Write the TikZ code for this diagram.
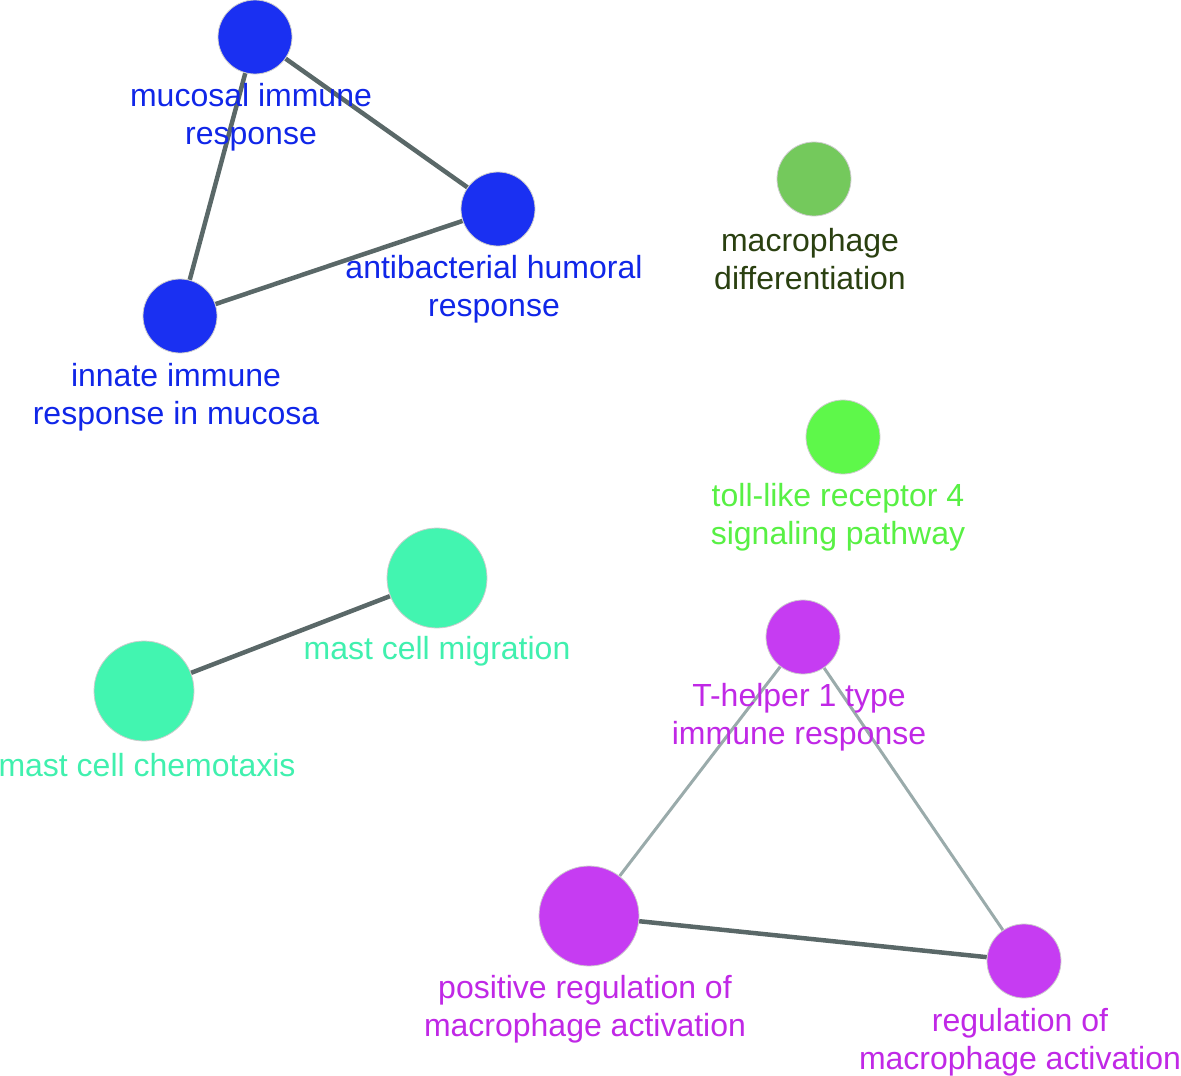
\documentclass[tikz,border=0pt]{standalone}
\usepackage{fontspec}
\setmainfont{Liberation Sans}
\usetikzlibrary{backgrounds}
\definecolor{cblue}{HTML}{1A30F2}
\definecolor{tblue}{HTML}{1026E8}
\definecolor{cmacro}{HTML}{74C95C}
\definecolor{tmacro}{HTML}{2A4010}
\definecolor{ctoll}{HTML}{5EF84A}
\definecolor{ttoll}{HTML}{58F044}
\definecolor{cmast}{HTML}{42F5B0}
\definecolor{tmast}{HTML}{40F0AE}
\definecolor{cmag}{HTML}{C63CF2}
\definecolor{tmag}{HTML}{C028E6}
\definecolor{edark}{HTML}{5A6868}
\definecolor{elight}{HTML}{9AABAB}
\tikzset{
  term/.style={circle, inner sep=0pt, minimum size=74pt, draw=gray!40, line width=0.8pt},
  bigterm/.style={term, minimum size=100pt},
  lbl/.style={align=center, inner sep=0pt, font=\fontsize{32}{38}\selectfont},
  strong/.style={edark, line width=4.5pt},
  weak/.style={elight, line width=3pt}
}
\begin{document}
\begin{tikzpicture}[x=1pt, y=-1pt]
\useasboundingbox (0,0) rectangle (1181,1076);
% circles
\node[term, fill=cblue] (muc) at (255,37) {};
\node[term, fill=cblue] (anti) at (498,209) {};
\node[term, fill=cblue] (innate) at (180,316) {};
\node[term, fill=cmacro] (macro) at (814,179) {};
\node[term, fill=ctoll] (toll) at (843,437) {};
\node[bigterm, fill=cmast] (mig) at (437,578) {};
\node[bigterm, fill=cmast] (chemo) at (144,691) {};
\node[term, fill=cmag] (th) at (803,637) {};
\node[bigterm, fill=cmag] (pos) at (589,916) {};
\node[term, fill=cmag] (reg) at (1024,961) {};
% edges
\begin{scope}[on background layer]
\draw[strong] (muc) -- (anti);
\draw[strong] (muc) -- (innate);
\draw[strong] (innate) -- (anti);
\draw[strong] (chemo) -- (mig);
\draw[weak] (th) -- (pos);
\draw[weak] (th) -- (reg);
\draw[strong] (pos) -- (reg);
\end{scope}
% labels
\node[lbl, text=tblue] (mucL) at (251,117) {mucosal immune\\response};
\node[lbl, text=tblue] (antiL) at (494,289) {antibacterial humoral\\response};
\node[lbl, text=tblue] (innateL) at (176,397) {innate immune\\response in mucosa};
\node[lbl, text=tmacro] (macroL) at (810,259) {macrophage\\differentiation};
\node[lbl, text=ttoll] (tollL) at (838,517) {toll-like receptor 4\\signaling pathway};
\node[lbl, text=tmast] (migL) at (437,651) {mast cell migration};
\node[lbl, text=tmast] (chemoL) at (147,765) {mast cell chemotaxis};
\node[lbl, text=tmag] (thL) at (799,717) {T-helper 1 type\\immune response};
\node[lbl, text=tmag] (posL) at (585,1009) {positive regulation of\\macrophage activation};
\node[lbl, text=tmag] (regL) at (1020,1042) {regulation of\\macrophage activation};
\end{tikzpicture}
\end{document}
